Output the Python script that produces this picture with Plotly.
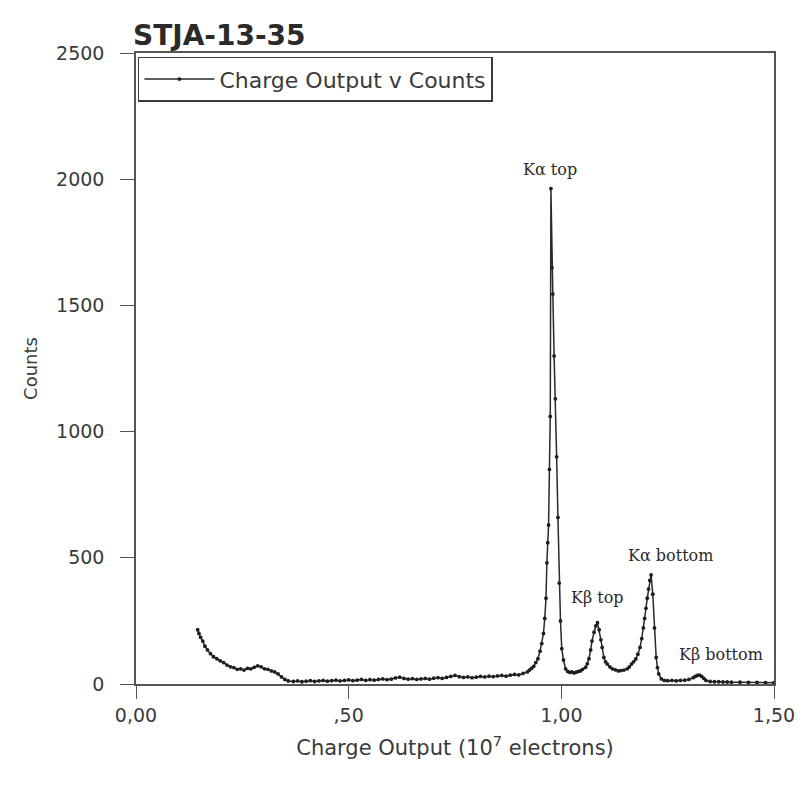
import plotly.graph_objects as go

# Charge output (10^7 electrons) and counts
charge = [
    0.145, 0.148, 0.152, 0.157, 0.162, 0.168, 0.175, 0.182, 0.190, 0.198,
    0.206, 0.214, 0.222, 0.230, 0.238, 0.246, 0.254, 0.262, 0.270, 0.278,
    0.286, 0.294, 0.302, 0.310, 0.318, 0.326, 0.334, 0.342, 0.350, 0.358,
    0.37, 0.38, 0.39, 0.40, 0.41, 0.42, 0.43, 0.44, 0.45, 0.46,
    0.47, 0.48, 0.49, 0.50, 0.51, 0.52, 0.53, 0.54, 0.55, 0.56,
    0.57, 0.58, 0.59, 0.60, 0.61, 0.62, 0.63, 0.64, 0.65, 0.66,
    0.67, 0.68, 0.69, 0.70, 0.71, 0.72, 0.73, 0.74, 0.75, 0.76,
    0.77, 0.78, 0.79, 0.80, 0.81, 0.82, 0.83, 0.84, 0.85, 0.86,
    0.87, 0.88, 0.89, 0.90, 0.91, 0.92,
    0.925, 0.930, 0.935, 0.940, 0.945, 0.950, 0.954, 0.958, 0.961, 0.964,
    0.966, 0.968, 0.970, 0.972, 0.974, 0.9755, 0.978, 0.980, 0.983, 0.986,
    0.989, 0.992, 0.995, 0.998,
    1.001, 1.005, 1.010, 1.015, 1.020, 1.025, 1.030, 1.035, 1.040, 1.045,
    1.050, 1.057, 1.061, 1.065, 1.069, 1.072, 1.077, 1.081, 1.085, 1.089,
    1.093, 1.096, 1.100, 1.104, 1.108, 1.114, 1.120, 1.127, 1.134, 1.140,
    1.147, 1.155, 1.160, 1.165, 1.170, 1.175, 1.180, 1.185, 1.189, 1.193,
    1.196, 1.199, 1.202, 1.205, 1.208, 1.211, 1.215, 1.219, 1.223, 1.226,
    1.229, 1.235, 1.242, 1.250, 1.260, 1.270, 1.280, 1.290, 1.300, 1.310,
    1.315, 1.320, 1.325, 1.330, 1.335, 1.340, 1.350, 1.360, 1.370, 1.380,
    1.390, 1.400, 1.420, 1.440, 1.460, 1.480, 1.500,
]
counts = [
    215, 200, 185, 170, 150, 135, 120, 108, 100, 92,
    85, 75, 68, 65, 58, 60, 55, 62, 60, 66,
    72, 68, 60, 58, 52, 48, 40, 28, 18, 12,
    10, 12, 9, 11, 13, 10, 12, 14, 11, 13,
    15, 12, 14, 16, 13, 15, 18, 14, 17, 15,
    18, 20, 17, 19, 24, 27, 22, 19, 21, 18,
    20, 22, 19, 23, 25, 22, 26, 30, 34, 29,
    26, 28, 25, 27, 30, 28, 31, 29, 32, 34,
    31, 35, 38, 36, 42, 48,
    55, 62, 70, 85, 100, 130, 160, 200, 260, 340,
    480, 560, 630, 850, 1060, 1963, 1650, 1545, 1300, 1130,
    900, 660, 400, 250,
    140, 95, 60, 50, 46, 48, 44, 47, 50, 52,
    58, 66, 80, 100, 135, 170, 205, 230, 243, 215,
    175, 145, 105, 88, 79, 68, 60, 56, 52, 53,
    55, 60, 68, 79, 88, 99, 118, 145, 180, 222,
    260, 300, 340, 376, 410, 432, 356, 222, 105, 65,
    40, 20, 14, 13, 14, 12, 14, 15, 18, 25,
    30, 34, 35, 30, 22, 14, 10, 9, 9, 8,
    8, 7, 7, 6, 6, 5, 5,
]

x_tick_vals = [0, 0.5, 1.0, 1.5]
x_tick_text = ["0,00", ",50", "1,00", "1,50"]
y_tick_vals = [0, 500, 1000, 1500, 2000, 2500]

peak_labels = ["Kα top", "Kβ top", "Kα bottom", "Kβ bottom"]
peak_label_x = [0.973, 1.085, 1.257, 1.376]
peak_label_y = [2040, 341, 511, 115]

SANS = "DejaVu Sans, Arial, sans-serif"
SERIF = "DejaVu Serif, Times New Roman, serif"

W, H = 799, 777  # page adds an 8 px body margin

fig = go.Figure()
fig.add_trace(go.Scatter(
    x=charge, y=counts, mode="lines+markers",
    name="Charge Output v Counts",
    line=dict(color="#2a2a2a", width=1.5),
    marker=dict(color="#1e1e1e", size=3.8, symbol="circle"),
))

for t, px, py in zip(peak_labels, peak_label_x, peak_label_y):
    fig.add_annotation(x=px, y=py, text=t, showarrow=False,
                       font=dict(family=SERIF, size=16, color="#2a2a2a"))

fig.update_layout(
    width=W, height=H,
    margin=dict(l=128, r=23, t=45, b=101),
    paper_bgcolor="white", plot_bgcolor="white",
    title=dict(text="<b>STJA-13-35</b>", x=125 / W, xanchor="left",
               y=1 - 27 / H, yanchor="middle",
               font=dict(family=SANS, size=28, color="#2a2a2a")),
    font=dict(family=SANS, size=19, color="#3a3a3a"),
    showlegend=True,
    legend=dict(x=0.003, y=0.994, xanchor="left", yanchor="top",
                bgcolor="white", bordercolor="#3a3a3a", borderwidth=1.5,
                itemwidth=70,
                font=dict(family=SANS, size=22, color="#3a3a3a")),
    xaxis=dict(range=[0, 1.5], tickvals=x_tick_vals, ticktext=x_tick_text,
               showgrid=False, zeroline=False, showline=True, linecolor="#555555",
               linewidth=1.5, mirror=True, ticks="outside", ticklen=13,
               tickcolor="#555555", tickfont=dict(size=19),
               title=dict(text="Charge Output (10<sup>7</sup> electrons)",
                          font=dict(size=21), standoff=16)),
    yaxis=dict(range=[0, 2500], tickvals=y_tick_vals,
               showgrid=False, zeroline=False, showline=True, linecolor="#555555",
               linewidth=1.5, mirror=True, ticks="outside", ticklen=14,
               ticklabelstandoff=12,
               tickcolor="#555555", tickfont=dict(size=19),
               title=dict(text="Counts", font=dict(size=18), standoff=14)),
)

fig.write_html("out.html")
